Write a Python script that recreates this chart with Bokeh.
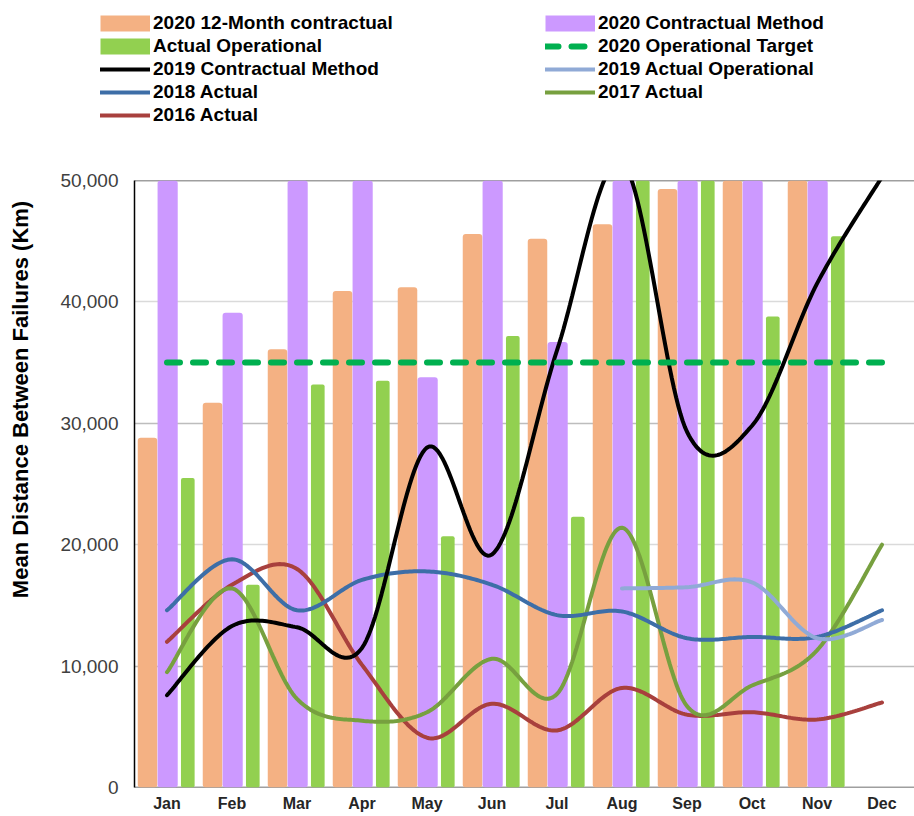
import numpy as np
from bokeh.plotting import figure
from bokeh.layouts import column, row
from bokeh.models import (FactorRange, Range1d, NumeralTickFormatter, Legend, LegendItem,
                          Span, Label, Grid, FixedTicker, ColumnDataSource)
from bokeh.transform import dodge
from bokeh.embed import file_html
from bokeh.resources import INLINE

nan = float("nan")

months = ["Jan", "Feb", "Mar", "Apr", "May", "Jun", "Jul", "Aug", "Sep", "Oct", "Nov", "Dec"]

# Bars (values above 50,000 run off the top of the chart)
contract12_2020 = [28800, 31700, 36100, 40900, 41200, 45600, 45200, 46400, 49300, 56000, 57000, nan]
contract_2020 = [58000, 39100, 60000, 57000, 33800, 56000, 36700, 58000, 57000, 56000, 55000, nan]
actual_op = [25500, 16700, 33200, 33500, 20700, 37200, 22300, 56000, 54000, 38800, 45400, nan]

# Lines
target_2020 = [35000] * 12
contract_2019 = [7600, 13300, 13200, 11500, 28000, 19200, 36000, 51500, 29300, 29800, 41500, 50300]
actual_op_2019 = [nan, nan, nan, nan, nan, nan, nan, 16400, 16500, 16900, 12300, 13800]
actual_2018 = [14600, 18800, 14600, 17100, 17800, 16700, 14200, 14500, 12300, 12400, 12400, 14600]
actual_2017 = [9500, 16400, 7300, 5500, 6200, 10600, 7700, 21400, 6700, 8400, 11300, 20000]
actual_2016 = [12000, 16700, 18000, 10100, 4100, 6900, 4700, 8200, 6000, 6200, 5600, 7000]

y_ticks = [0, 10000, 20000, 30000, 40000, 50000]

C_C12, C_C20, C_OP = "#F4B183", "#CC99FF", "#92D050"
C_TG, C_19, C_19OP, C_18, C_17, C_16 = "#00B050", "black", "#90AAD6", "#3D6EA7", "#77A03F", "#A8403D"
LW = 4


def smooth(vals, n=30):
    """Excel-style smoothed line (cubic Bezier through the points)."""
    pts = [(i + 0.5, v) for i, v in enumerate(vals) if not np.isnan(v)]
    xs, ys = [], []
    m = len(pts)
    for i in range(m - 1):
        p0 = pts[i - 1] if i > 0 else pts[i]
        p1, p2 = pts[i], pts[i + 1]
        p3 = pts[i + 2] if i + 2 < m else pts[i + 1]
        c1 = (p1[0] + (p2[0] - p0[0]) / 6, p1[1] + (p2[1] - p0[1]) / 6)
        c2 = (p2[0] - (p3[0] - p1[0]) / 6, p2[1] - (p3[1] - p1[1]) / 6)
        for t in np.linspace(0, 1, n, endpoint=(i == m - 2)):
            a, b, c, d = (1 - t) ** 3, 3 * (1 - t) ** 2 * t, 3 * (1 - t) * t ** 2, t ** 3
            xs.append(a * p1[0] + b * c1[0] + c * c2[0] + d * p2[0])
            ys.append(a * p1[1] + b * c1[1] + c * c2[1] + d * p2[1])
    return xs, ys


def bare(fig):
    fig.axis.visible = False
    fig.grid.grid_line_color = None
    fig.outline_line_color = None
    return fig


LEG_H = 160
MAIN_H = 654

# ---------------- main chart ----------------
p = figure(x_range=FactorRange(*months, range_padding=0), y_range=Range1d(0, 50000),
           width=874, height=MAIN_H, min_border_left=94, min_border_top=20,
           min_border_right=0, min_border_bottom=0, output_backend="svg",
           toolbar_location=None, background_fill_color="white", border_fill_color="white")
p.outline_line_color = None

p.xgrid.grid_line_color = None
p.ygrid.ticker = FixedTicker(ticks=[20000, 40000])
p.ygrid.grid_line_color = "#DADADA"
p.ygrid.grid_line_width = 1.5
p.add_layout(Grid(dimension=1, ticker=FixedTicker(ticks=[10000, 30000]),
                  grid_line_color="#BDBDBD", grid_line_width=1.5))

src = ColumnDataSource(dict(month=months, c12=contract12_2020, c20=contract_2020, op=actual_op))
p.vbar(x=dodge("month", -0.30, range=p.x_range), top="c12", width=0.30, source=src,
       fill_color=C_C12, line_color=None, border_radius=3)
p.vbar(x=dodge("month", 0.01, range=p.x_range), top="c20", width=0.31, source=src,
       fill_color=C_C20, line_color=None, border_radius=3)
p.vbar(x=dodge("month", 0.32, range=p.x_range), top="op", width=0.21, source=src,
       fill_color=C_OP, line_color=None, border_radius=2)

for vals, col in [(actual_2016, C_16), (actual_2017, C_17), (actual_2018, C_18),
                  (actual_op_2019, C_19OP), (contract_2019, C_19)]:
    sx, sy = smooth(vals)
    p.line(sx, sy, line_color=col, line_width=LW, line_cap="round")
p.line([i + 0.5 for i in range(len(months))], target_2020, line_color=C_TG,
       line_width=6, line_dash="13 13", line_cap="round")

p.yaxis.ticker = FixedTicker(ticks=y_ticks)
p.yaxis.formatter = NumeralTickFormatter(format="0,0")
p.yaxis.major_label_text_font = "Liberation Sans"
p.yaxis.major_label_text_font_size = "19px"
p.yaxis.major_label_text_color = "#404040"
p.yaxis.major_tick_line_color = None
p.yaxis.major_tick_out = 0
p.yaxis.major_tick_in = 0
p.yaxis.minor_tick_line_color = None
p.yaxis.axis_line_color = "black"
p.yaxis.axis_line_width = 1.5
p.yaxis.major_label_standoff = 16

p.xaxis.axis_line_color = None
p.xaxis.major_tick_line_color = None
p.xaxis.major_tick_out = 0
p.xaxis.major_tick_in = 0
p.xaxis.major_label_text_font = "Liberation Sans"
p.xaxis.major_label_text_font_style = "bold"
p.xaxis.major_label_text_font_size = "16px"
p.xaxis.major_label_text_color = "#262626"
p.xaxis.major_label_standoff = 7

p.add_layout(Span(location=0, dimension="width", line_color="#404040", line_width=1.5,
                  level="underlay"))
p.add_layout(Span(location=50000, dimension="width", line_color="#404040", line_width=1.5,
                  level="underlay"))

# ---------------- axis title strip ----------------
pt = bare(figure(width=40, height=MAIN_H, x_range=Range1d(0, 1), y_range=Range1d(0, 1),
                 min_border=0, output_backend="svg", toolbar_location=None))
pt.add_layout(Label(x=20, y=MAIN_H - 266, x_units="screen", y_units="screen",
                    text="Mean Distance Between Failures (Km)", angle=np.pi / 2,
                    text_align="center", text_baseline="middle", text_font="Liberation Sans",
                    text_font_style="bold", text_font_size="22px", text_color="black"))

# ---------------- legend strip ----------------
pl = bare(figure(width=914, height=LEG_H, x_range=Range1d(0, 1), y_range=Range1d(0, 1),
                 min_border=0, output_backend="svg", toolbar_location=None))
# legend-only renderers (their points are NaN, so nothing is drawn in the strip)
le = dict(x=[nan, nan], y=[nan, nan])
l_c12 = pl.line(**le, line_color=C_C12, line_width=16, line_cap="butt")
l_op = pl.line(**le, line_color=C_OP, line_width=16, line_cap="butt")
l_c20 = pl.line(**le, line_color=C_C20, line_width=16, line_cap="butt")
l_19 = pl.line(**le, line_color=C_19, line_width=LW, line_cap="round")
l_18 = pl.line(**le, line_color=C_18, line_width=LW, line_cap="round")
l_16 = pl.line(**le, line_color=C_16, line_width=LW, line_cap="round")
l_tg = pl.line(**le, line_color=C_TG, line_width=6, line_dash="13 13", line_cap="round")
l_19op = pl.line(**le, line_color=C_19OP, line_width=LW, line_cap="round")
l_17 = pl.line(**le, line_color=C_17, line_width=LW, line_cap="round")

leg_style = dict(orientation="vertical", glyph_width=50, glyph_height=20, label_height=23,
                 spacing=0, padding=0, margin=0, label_standoff=3,
                 label_text_font="Liberation Sans", label_text_font_style="bold",
                 label_text_font_size="19px", label_text_color="black",
                 background_fill_alpha=0, border_line_color=None)
pl.add_layout(Legend(items=[LegendItem(label="2020 12-Month contractual", renderers=[l_c12]),
                            LegendItem(label="Actual Operational", renderers=[l_op]),
                            LegendItem(label="2019 Contractual Method", renderers=[l_19]),
                            LegendItem(label="2018 Actual", renderers=[l_18]),
                            LegendItem(label="2016 Actual", renderers=[l_16])],
                     location=(100, LEG_H - 126), **leg_style), "center")
pl.add_layout(Legend(items=[LegendItem(label="2020 Contractual Method", renderers=[l_c20]),
                            LegendItem(label="2020 Operational Target", renderers=[l_tg]),
                            LegendItem(label="2019 Actual Operational", renderers=[l_19op]),
                            LegendItem(label="2017 Actual", renderers=[l_17])],
                     location=(545, LEG_H - 103), **leg_style), "center")

layout = column(pl, row(pt, p, spacing=0), spacing=0)
open("out.html", "w").write(file_html(layout, INLINE))
